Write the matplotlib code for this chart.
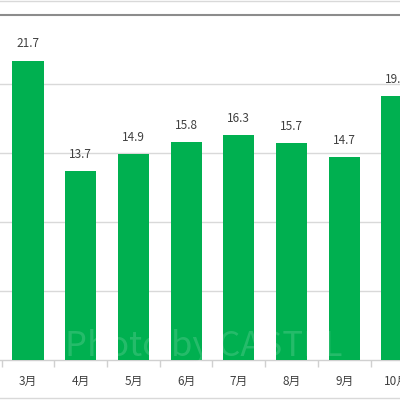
import matplotlib
matplotlib.use("Agg")
import matplotlib.pyplot as plt
from matplotlib.lines import Line2D

plt.rcParams['font.family'] = ['Noto Sans CJK JP', 'DejaVu Sans']

months = ['3月', '4月', '5月', '6月', '7月', '8月', '9月', '10月']
values = [21.7, 13.7, 14.9, 15.8, 16.3, 15.7, 14.7, 19.1]
labels = ['21.7', '13.7', '14.9', '15.8', '16.3', '15.7', '14.7', '19.1']

fig = plt.figure(figsize=(4, 4), dpi=100)
ax = fig.add_axes([0, 0.1, 1, 0.8625])

x = list(range(len(months)))
ax.bar(x, values, width=0.59, color='#00B050', zorder=3)

ax.set_ylim(0, 25)
ax.set_yticks([5, 10, 15, 20])
ax.yaxis.grid(True, color='#d9d9d9', linewidth=1, zorder=0)
ax.tick_params(axis='y', left=False, labelleft=False)

for s in ['left', 'right']:
    ax.spines[s].set_visible(False)
ax.spines['top'].set_color('#8c8c8c')
ax.spines['top'].set_linewidth(1.5)
ax.spines['bottom'].set_color('#d0d0d0')
ax.spines['bottom'].set_linewidth(1)

ax.set_xticks(x)
ax.set_xticklabels(months, fontsize=8.5, color='#404040')
ax.tick_params(axis='x', length=0, pad=10.5)
ax.set_xticks([i - 0.5 for i in range(len(months))], minor=True)
ax.tick_params(axis='x', which='minor', length=5, color='#d0d0d0', width=1)
ax.set_xlim(-0.531, 7.059)

for xi, v, lab in zip(x, values, labels):
    ax.annotate(lab, (xi, v), xytext=(0, 7.5), textcoords='offset points',
                ha='center', va='bottom', fontsize=8.5, color='#404040',
                annotation_clip=False)

fig.text(0.51, 0.135, 'Photo by CASTEL', fontsize=25, color='white',
         alpha=0.15, ha='center', va='center', zorder=10)

fig.add_artist(Line2D([0, 1], [0.998, 0.998], color='#d9d9d9', linewidth=1))
fig.add_artist(Line2D([0, 1], [0.005, 0.005], color='#d9d9d9', linewidth=1))

fig.savefig('out.png', dpi=100, facecolor='white')
